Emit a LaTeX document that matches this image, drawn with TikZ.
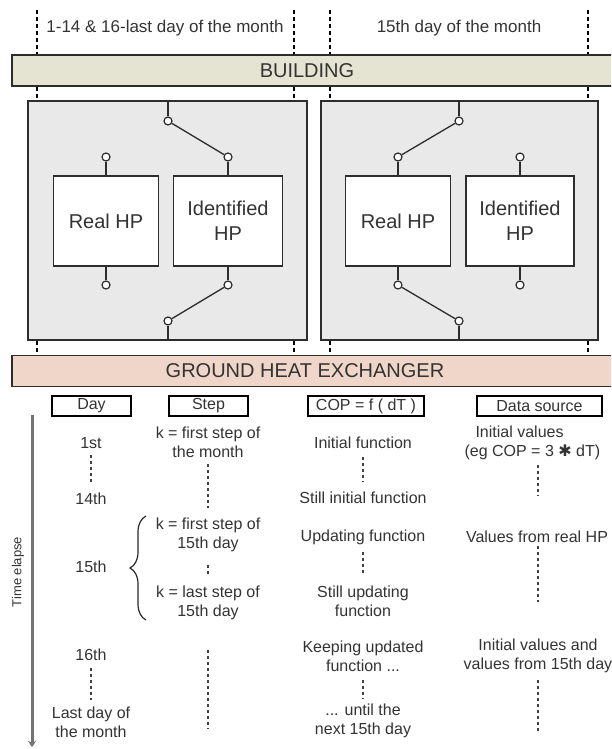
\documentclass[tikz,border=0pt]{standalone}
\usepackage{fontspec}
\setmainfont{Liberation Sans}
\newfontfamily\symfont{DejaVu Sans}
\usetikzlibrary{positioning,calc,arrows.meta,decorations.pathreplacing}

\definecolor{bldgfill}{RGB}{229,228,210}
\definecolor{ghefill}{RGB}{240,214,200}
\definecolor{panelfill}{RGB}{233,233,233}
\definecolor{edgegray}{RGB}{45,45,45}

\begin{document}
\begin{tikzpicture}[x=1pt, y=-1pt,
        every node/.style={font=\fontsize{16}{19}\selectfont, text=black!80},
        bar/.style={rectangle, draw=edgegray, line width=1.6pt, minimum height=31pt, minimum width=620pt, inner sep=0pt},
        bartext/.style={font=\fontsize{20}{24}\selectfont},
        period/.style={draw=black, line width=1.5pt, dash pattern=on 4pt off 3pt},
        toplabel/.style={font=\fontsize{17}{20}\selectfont},
        panel/.style={rectangle, draw=edgegray, line width=1.5pt, fill=panelfill, minimum height=239pt},
        hpbox/.style={rectangle, draw=edgegray, line width=1.5pt, fill=white, minimum height=90pt, align=center, font=\fontsize{20}{25}\selectfont},
        term/.style={circle, draw=edgegray, line width=1.2pt, fill=white, minimum size=8pt, inner sep=0pt},
        wire/.style={draw=edgegray, line width=1.3pt},
        colhead/.style={rectangle, draw=black, line width=1.5pt, minimum height=20pt, inner sep=0pt},
        cell/.style={align=center},
        elapse/.style={draw=black!75, line width=1.5pt, dash pattern=on 3pt off 3pt},
        timeline/.style={draw=black!55, line width=3pt, -{Stealth[length=6pt,width=8pt]}},
        bracket/.style={draw=black!85, line width=1.2pt, decorate, decoration={brace, amplitude=16pt, aspect=0.5}},
    ]
        \clip (0,0) rectangle (611,749);

        % the two bars
        \node[bar, fill=bldgfill] (building) at (322,70.5) {};
        \node[bartext] (buildingtxt) at (307,70.5) {BUILDING};
        \node[bar, fill=ghefill] (ghe) at (322,371) {};
        \node[bartext] (ghetxt) at (305,371) {GROUND HEAT EXCHANGER};

        % the two periods
        \node[toplabel] (normaldays) at (165,28) {1-14 \& 16-last day of the month};
        \node[toplabel] (midday) at (459,28) {15th day of the month};

        \node[panel, minimum width=279pt] (lpanel) at (167.5,220.5) {};
        \node[panel, minimum width=277pt] (rpanel) at (459.5,220.5) {};

        \coordinate (c1) at (37,10);
        \coordinate (c2) at (294,10);
        \coordinate (c3) at (330,10);
        \coordinate (c4) at (588,10);
        \draw[period] (c1) -- (c1 |- building.north) (c1 |- building.south) -- (c1 |- lpanel.north) (c1 |- lpanel.south) -- (c1 |- ghe.north);
        \draw[period] (c2) -- (c2 |- building.north) (c2 |- building.south) -- (c2 |- lpanel.north) (c2 |- lpanel.south) -- (c2 |- ghe.north);
        \draw[period] (c3) -- (c3 |- building.north) (c3 |- building.south) -- (c3 |- rpanel.north) (c3 |- rpanel.south) -- (c3 |- ghe.north);
        \draw[period] (c4) -- (c4 |- building.north) (c4 |- building.south) -- (c4 |- rpanel.north) (c4 |- rpanel.south) -- (c4 |- ghe.north);

        % left panel: identified HP connected
        \node[hpbox, minimum width=105pt] (lreal) at (106,221) {Real HP};
        \node[hpbox, minimum width=109pt] (lident) at (228,221) {Identified\\HP};
        \node[term] (lrealin) at (106,157) {};
        \node[term] (lrealout) at (106,285) {};
        \node[term] (lidentin) at (228,157) {};
        \node[term] (lidentout) at (228,285) {};
        \node[term] (lswtop) at (168,121) {};
        \node[term] (lswbot) at (168,321) {};
        \draw[wire] (lreal) -- (lrealin);
        \draw[wire] (lreal) -- (lrealout);
        \draw[wire] (lident) -- (lidentin);
        \draw[wire] (lident) -- (lidentout);
        \draw[wire] (lswtop) -- (lswtop |- lpanel.north);
        \draw[wire] (lswbot) -- (lswbot |- lpanel.south);
        \draw[wire] (lswtop) -- (lidentin);
        \draw[wire] (lswbot) -- (lidentout);

        % right panel: real HP connected
        \node[hpbox, minimum width=105pt] (rreal) at (398,221) {Real HP};
        \node[hpbox, minimum width=108pt] (rident) at (520,221) {Identified\\HP};
        \node[term] (rrealin) at (398,157) {};
        \node[term] (rrealout) at (398,285) {};
        \node[term] (ridentin) at (520,157) {};
        \node[term] (ridentout) at (520,285) {};
        \node[term] (rswtop) at (459,121) {};
        \node[term] (rswbot) at (459,321) {};
        \draw[wire] (rreal) -- (rrealin);
        \draw[wire] (rreal) -- (rrealout);
        \draw[wire] (rident) -- (ridentin);
        \draw[wire] (rident) -- (ridentout);
        \draw[wire] (rswtop) -- (rswtop |- rpanel.north);
        \draw[wire] (rswbot) -- (rswbot |- rpanel.south);
        \draw[wire] (rswtop) -- (rrealin);
        \draw[wire] (rswbot) -- (rrealout);

        % table
        \node[colhead, minimum width=79pt] (dayhd) at (91.5,406) {Day};
        \node[colhead, minimum width=79pt] (stephd) at (208.5,406) {Step};
        \node[colhead, minimum width=116pt] (cophd) at (366,406) {COP = f ( dT )};
        \node[colhead, minimum width=125pt] (srchd) at (539.5,406) {Data source};

        \node[cell] (day1) at (91,443) {1st};
        \node[cell] (day14) at (91,499) {14th};
        \node[cell] (day15) at (91,567) {15th};
        \node[cell] (day16) at (91,655) {16th};
        \node[cell] (daylast) at (91,722) {Last day of\\the month};

        \node[cell] (step1) at (208,442.5) {k = first step of\\the month};
        \node[cell] (step15a) at (208,534.5) {k = first step of\\15th day};
        \node[cell] (step15b) at (208,603) {k = last step of\\15th day};

        \node[cell] (cop1) at (363,443) {Initial function};
        \node[cell] (cop14) at (363,498) {Still initial function};
        \node[cell] (cop15a) at (363,537) {Updating function};
        \node[cell] (cop15b) at (363,601) {Still updating\\function};
        \node[cell] (cop16) at (363,656) {Keeping updated\\function ...};
        \node[cell] (coplast) at (363,721) {... until the\\next 15th day};

        \node[align=left, anchor=west] (src1) at (461,442.5) {\hspace{11pt}Initial values\\(eg COP = 3 {\symfont ✱} dT)};
        \node[cell] (src15) at (537,537) {Values from real HP};
        \node[cell] (src16) at (538,656) {Initial values and\\values from 15th day};

        \draw[elapse, shorten <=3pt, shorten >=8pt] (day1) -- (day14);
        \draw[elapse, shorten <=4pt, shorten >=3pt] (day16) -- (daylast);
        \draw[elapse, shorten <=3pt, shorten >=6pt] (step1) -- (step15a);
        \draw[elapse, shorten <=10pt, shorten >=7pt] (step15a) -- (step15b);
        \draw[elapse, shorten <=5pt, shorten >=7pt] (cop1) -- (cop14);
        \draw[elapse, shorten <=4pt, shorten >=7pt] (cop15a) -- (cop15b);
        \draw[elapse, shorten <=5pt, shorten >=2pt] (cop16) -- (coplast);

        \coordinate (steprest) at (208,650);
        \coordinate (steprestend) at (208,729);
        \coordinate (src1a) at (538,465);
        \coordinate (src1b) at (538,496);
        \coordinate (src15a) at (538,546);
        \coordinate (src15b) at (538,602);
        \coordinate (src16a) at (538,680);
        \coordinate (src16b) at (538,733);
        \draw[elapse] (steprest) -- (steprestend);
        \draw[elapse] (src1a) -- (src1b);
        \draw[elapse] (src15a) -- (src15b);
        \draw[elapse] (src16a) -- (src16b);

        % brace for the 15th day
        \coordinate (brtop) at (146,516);
        \coordinate (brbot) at (146,620);
        \draw[bracket] (brbot) -- (brtop);

        % time axis
        \coordinate (ttop) at (32,415);
        \coordinate (tbot) at (32,747);
        \draw[timeline] (ttop) -- (tbot);
        \node[font=\fontsize{13}{15}\selectfont, rotate=90] (elapselbl) at (18,572) {Time elapse};

    \end{tikzpicture}
\end{document}
